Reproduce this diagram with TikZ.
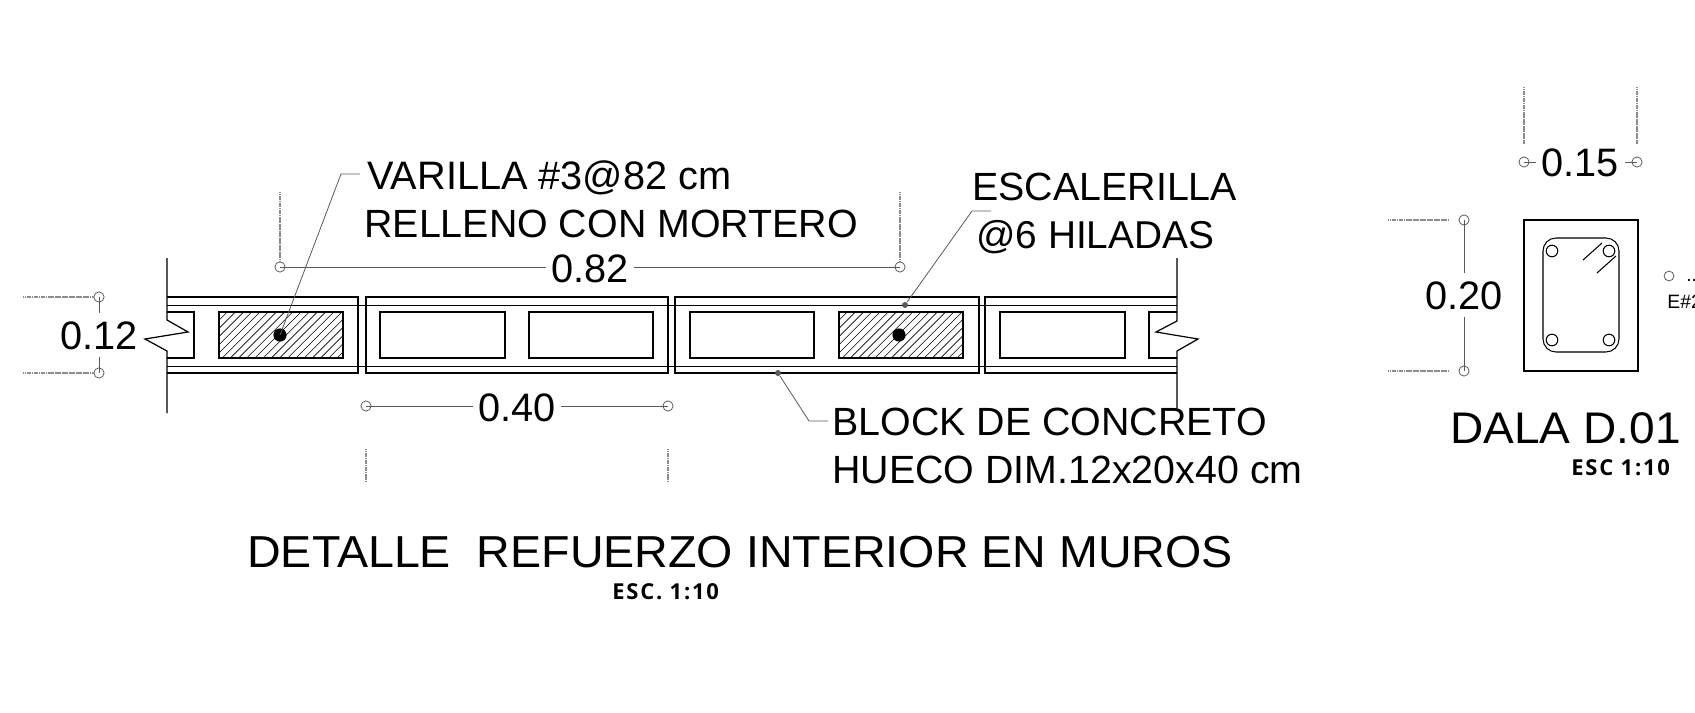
\documentclass[tikz,border=0pt]{standalone}
\usepackage{fontspec}
\setmainfont{Liberation Sans}
\newfontfamily\widefont[FakeStretch=1.04]{Liberation Sans}
\newfontfamily\escfont[FakeStretch=1.0,LetterSpace=8]{Open Sans Bold}
\tikzset{
  wall/.style={line width=1.45pt},
  thin line/.style={line width=0.55pt},
  stirrup/.style={line width=0.6pt},
  dimline/.style={line width=0.45pt,black!65},
  extline/.style={line width=0.6pt,black!45,dash pattern=on 0.8pt off 0.2pt},
  leader/.style={line width=0.45pt,black!65},
  dimend/.style={circle,draw=black!65,line width=0.45pt,minimum size=5.8pt,inner sep=0pt},
  leaderdot/.style={circle,fill=black!65,minimum size=3.4pt,inner sep=0pt},
  bar/.style={circle,fill=black,minimum size=7.5pt,inner sep=0pt},
  label text/.style={font=\fontsize{22.4}{24}\selectfont,inner sep=0pt,anchor=base west},
  dim text/.style={font=\fontsize{22.6}{24}\selectfont,inner sep=0pt},
  small text/.style={font=\fontsize{11}{13}\selectfont,inner sep=0pt,anchor=base west},
  esc text/.style={font=\escfont\fontsize{12.5}{14}\selectfont,inner sep=0pt,anchor=base west},
}
\begin{document}
\begin{tikzpicture}[x=0.02cm,y=-0.02cm]
  \useasboundingbox (0,0) rectangle (1695,713);

  % Draw blocks
  \draw[wall] (167,297) -- (358,297) -- (358,373) -- (167,373);
  \foreach \xa/\xb in {366/668,675/979}
    \draw[wall] (\xa,297) rectangle (\xb,373);
  \draw[wall] (1177,297) -- (985,297) -- (985,373) -- (1177,373);
  \draw[thin line] (167,305) -- (1177,305);
  \draw[thin line] (167,366) -- (1177,366);

  % Draw holes
  \foreach \xa/\xb in {380/505,529/653,690/814,1000/1125}
    \draw[wall] (\xa,312) rectangle (\xb,358);
  \foreach \xa/\xb in {219/343,839/963} {
    \begin{scope}
      \clip (\xa,312) rectangle (\xb,358);
      \foreach \i in {0,...,22}
        \draw[line width=0.35pt] (\xa-46+8.2*\i,358) -- ++(46,-46);
    \end{scope}
    \draw[wall] (\xa,312) rectangle (\xb,358);
  }
  \draw[wall] (167,312) -- (194,312) -- (194,358) -- (167,358);
  \draw[wall] (1177,312) -- (1149,312) -- (1149,358) -- (1177,358);

  % Draw break lines
  \draw[line width=0.7pt] (167,258) -- (167,320) -- (188,332) -- (145,339) -- (167,351) -- (167,413);
  \draw[line width=0.7pt] (1177,258) -- (1177,321) -- (1156,332) -- (1198,339) -- (1177,351) -- (1177,408);

  % Draw bars
  \node[bar] (barA) at (280,335) {};
  \node[bar] (barB) at (899,335) {};

  % Dimension 0.82
  \node[dimend] (a1) at (280,267) {};
  \node[dimend] (a2) at (900,267) {};
  \node[dim text] (a) at (590,269) {0.82};
  \draw[dimline] (a1.center) -- (546,267) (634,267) -- (a2.center);
  \draw[extline] (280,192) -- (a1);
  \draw[extline] (900,192) -- (a2);

  % Dimension 0.40
  \node[dimend] (b1) at (366,406) {};
  \node[dimend] (b2) at (668,406) {};
  \node[dim text] (b) at (517,408) {0.40};
  \draw[dimline] (b1.center) -- (473,406) (561,406) -- (b2.center);
  \draw[extline] (366,449) -- (366,482);
  \draw[extline] (668,449) -- (668,482);

  % Dimension 0.12
  \node[dimend] (c1) at (99,297) {};
  \node[dimend] (c2) at (99,373) {};
  \node[dim text] (c) at (99,336) {0.12};
  \draw[dimline] (c1.center) -- (99,313) (99,357) -- (c2.center);
  \draw[extline] (23,297) -- (c1);
  \draw[extline] (23,373) -- (c2);

  % Labels
  \node[label text,font=\fontsize{22.6}{24}\selectfont] (varilla) at (367,190) {VARILLA \#3@82 cm};
  \node[label text] (relleno) at (364,237) {RELLENO CON MORTERO};
  \node[label text] (escal) at (972,200) {ESCALERILLA};
  \node[label text,font=\fontsize{22.1}{24}\selectfont] (hiladas) at (976,249) {@6 HILADAS};
  \node[label text] (block) at (832,435) {BLOCK DE CONCRETO};
  \node[label text] (hueco) at (832,483) {HUECO DIM.12x20x40 cm};

  % Leaders
  \coordinate (v1) at (341,174);
  \coordinate (v2) at (360,174);
  \draw[leader] (barA.center) -- (v1) -- (v2);
  \node[leaderdot] (dotE) at (905,305) {};
  \coordinate (e1) at (972,211);
  \coordinate (e2) at (991,211);
  \draw[leader] (dotE) -- (e1) -- (e2);
  \node[leaderdot] (dotB) at (778,373) {};
  \coordinate (k1) at (809,421);
  \coordinate (k2) at (828,421);
  \draw[leader] (dotB) -- (k1) -- (k2);

  % Titles
  \node[font=\widefont\fontsize{25.5}{27}\selectfont,inner sep=0pt,anchor=base west] (title) at (247,567) {DETALLE\ \ REFUERZO INTERIOR EN MUROS};
  \node[esc text] (titleesc) at (612,599) {ESC. 1:10};

  % Draw column section
  \draw[wall] (1524,220) rectangle (1638,371);
  \draw[stirrup,rounded corners=7.4pt] (1543,238) rectangle (1619,352);
  \foreach \x/\y in {1552/251,1609/251,1552/340,1609/340}
    \draw[stirrup] (\x,\y) circle (5.8);
  \draw[stirrup] (1583,260) -- (1602,243);
  \draw[stirrup] (1597,273) -- (1616,256);

  % Dimension 0.15
  \node[dimend] (d1) at (1524,162) {};
  \node[dimend] (d2) at (1637,162) {};
  \node[dim text] (d) at (1580,163) {0.15};
  \draw[dimline] (d1.center) -- (1536,162) (1625,162) -- (d2.center);
  \draw[extline] (1524,87) -- (1524,144);
  \draw[extline] (1637,87) -- (1637,144);

  % Dimension 0.20
  \node[dimend] (f1) at (1464,220) {};
  \node[dimend] (f2) at (1464,371) {};
  \node[dim text] (f) at (1464,296) {0.20};
  \draw[dimline] (f1.center) -- (1464,273) (1464,317) -- (f2.center);
  \draw[extline] (1388,220) -- (1448,220);
  \draw[extline] (1388,371) -- (1448,371);

  % Notes at the edge
  \node[dimend,minimum size=5.6pt] (note) at (1669,276) {};
  \node[small text] (dots) at (1686,281) {..};
  \node[small text] (stirrupnote) at (1667,308) {E\#2};

  % Title of section
  \node[font=\widefont\fontsize{25.2}{27}\selectfont,inner sep=0pt,anchor=base west] (dala) at (1450,443) {DALA D.01};
  \node[esc text] (dalaesc) at (1571,475) {ESC 1:10};
\end{tikzpicture}
\end{document}
